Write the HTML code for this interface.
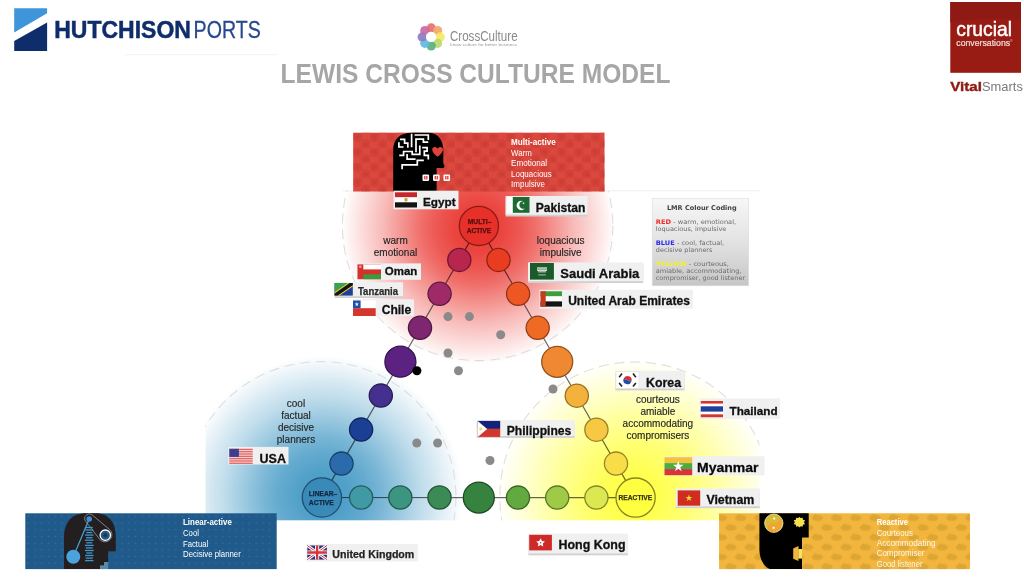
<!DOCTYPE html>
<html lang="en">
<head>
<meta charset="utf-8">
<title>Lewis Cross Culture Model</title>
<style>
html,body{margin:0;padding:0;background:#fff;}
body{width:1024px;height:586px;overflow:hidden;font-family:"Liberation Sans",sans-serif;}
svg{display:block;filter:blur(0.5px);}
text{font-family:"Liberation Sans",sans-serif;}
text.dv{font-family:"DejaVu Sans","Liberation Sans",sans-serif;}
</style>
</head>
<body>
<svg width="1024" height="586" viewBox="0 0 1024 586">
<defs>
<radialGradient id="gR" gradientUnits="userSpaceOnUse" cx="478.2" cy="228" r="136">
<stop offset="0" stop-color="#ea3a34" stop-opacity="1"/><stop offset="0.17" stop-color="#ea3a34" stop-opacity="0.95"/><stop offset="0.32" stop-color="#ea3a34" stop-opacity="0.84"/><stop offset="0.43" stop-color="#ea3a34" stop-opacity="0.72"/><stop offset="0.53" stop-color="#ea3a34" stop-opacity="0.58"/><stop offset="0.62" stop-color="#ea3a34" stop-opacity="0.46"/><stop offset="0.7" stop-color="#ea3a34" stop-opacity="0.35"/><stop offset="0.78" stop-color="#ea3a34" stop-opacity="0.26"/><stop offset="0.85" stop-color="#ea3a34" stop-opacity="0.18"/><stop offset="0.92" stop-color="#ea3a34" stop-opacity="0.1"/><stop offset="0.97" stop-color="#ea3a34" stop-opacity="0.04"/><stop offset="1" stop-color="#ea3a34" stop-opacity="0"/>
</radialGradient>
<radialGradient id="gB" gradientUnits="userSpaceOnUse" cx="323" cy="496" r="140">
<stop offset="0" stop-color="#479bc6" stop-opacity="1"/><stop offset="0.17" stop-color="#479bc6" stop-opacity="0.95"/><stop offset="0.32" stop-color="#479bc6" stop-opacity="0.84"/><stop offset="0.43" stop-color="#479bc6" stop-opacity="0.72"/><stop offset="0.53" stop-color="#479bc6" stop-opacity="0.58"/><stop offset="0.62" stop-color="#479bc6" stop-opacity="0.46"/><stop offset="0.7" stop-color="#479bc6" stop-opacity="0.35"/><stop offset="0.78" stop-color="#479bc6" stop-opacity="0.26"/><stop offset="0.85" stop-color="#479bc6" stop-opacity="0.18"/><stop offset="0.92" stop-color="#479bc6" stop-opacity="0.1"/><stop offset="0.97" stop-color="#479bc6" stop-opacity="0.04"/><stop offset="1" stop-color="#479bc6" stop-opacity="0"/>
</radialGradient>
<radialGradient id="gY" gradientUnits="userSpaceOnUse" cx="634" cy="496.5" r="137">
<stop offset="0" stop-color="#ffff40" stop-opacity="1"/><stop offset="0.2" stop-color="#ffff40" stop-opacity="0.9"/><stop offset="0.4" stop-color="#ffff40" stop-opacity="0.72"/><stop offset="0.55" stop-color="#ffff40" stop-opacity="0.55"/><stop offset="0.7" stop-color="#ffff40" stop-opacity="0.37"/><stop offset="0.82" stop-color="#ffff40" stop-opacity="0.22"/><stop offset="0.92" stop-color="#ffff40" stop-opacity="0.1"/><stop offset="0.97" stop-color="#ffff40" stop-opacity="0.04"/><stop offset="1" stop-color="#ffff40" stop-opacity="0"/>
</radialGradient>
<linearGradient id="gBox" x1="0" y1="0" x2="0" y2="1">
<stop offset="0" stop-color="#f7f7f7"/><stop offset="0.5" stop-color="#e2e2e2"/><stop offset="1" stop-color="#c6c6c6"/>
</linearGradient>
<clipPath id="cR"><rect x="330" y="191" width="300" height="175"/></clipPath>
<clipPath id="cB"><rect x="205.3" y="350" width="260" height="170.6"/></clipPath>
<clipPath id="cY"><rect x="490" y="350" width="269.5" height="170.6"/></clipPath>
<pattern id="pRed" width="17" height="15" patternUnits="userSpaceOnUse" x="353" y="133">
<circle cx="4.5" cy="4" r="5.2" fill="#c93a32" opacity="0.45"/><circle cx="13" cy="11.5" r="5.2" fill="#c93a32" opacity="0.45"/><circle cx="4.5" cy="4" r="2" fill="#c2352e" opacity="0.4"/><circle cx="13" cy="11.5" r="2" fill="#c2352e" opacity="0.4"/>
</pattern>
<pattern id="pBlue" width="6.7" height="6.7" patternUnits="userSpaceOnUse" x="25" y="513">
<circle cx="3.4" cy="3.4" r="0.75" fill="#5a8fc0" opacity="0.45"/>
</pattern>
<pattern id="pYel" width="19.2" height="19.6" patternUnits="userSpaceOnUse" x="719.1" y="513.3">
<g fill="#d9a230" opacity="0.8"><ellipse cx="2.3" cy="4.6" rx="5.6" ry="3.1"/><ellipse cx="21.5" cy="4.6" rx="5.6" ry="3.1"/><ellipse cx="11.9" cy="14.4" rx="5.6" ry="3.1"/><circle cx="0.4" cy="2.4" r="1.6"/><circle cx="19.6" cy="2.4" r="1.6"/><circle cx="10" cy="12.2" r="1.6"/></g>
</pattern>
</defs>
<rect width="1024" height="586" fill="#ffffff"/>

<rect x="125" y="54.2" width="152" height="1" fill="#f2f2f2"/>
<rect x="343" y="190.3" width="417" height="1" fill="#eeeeee"/>
<g clip-path="url(#cR)"><rect x="335" y="191" width="290" height="180" fill="url(#gR)"/><circle cx="477.6" cy="225.4" r="135.2" fill="none" stroke="#dedede" stroke-width="1.1" stroke-dasharray="10 5.8"/></g>
<g clip-path="url(#cB)"><rect x="205.3" y="350" width="262" height="170.6" fill="url(#gB)"/><circle cx="320.7" cy="496.8" r="135.2" fill="none" stroke="#dedede" stroke-width="1.1" stroke-dasharray="10 5.8"/></g>
<g clip-path="url(#cY)"><rect x="490" y="350" width="269.5" height="170.6" fill="url(#gY)"/><circle cx="635" cy="497.2" r="135.2" fill="none" stroke="#dedede" stroke-width="1.1" stroke-dasharray="10 5.8"/></g>
<g stroke="#000" stroke-opacity="0.6" stroke-width="1.2" fill="none"><path d="M478.9 225.9L321.9 497.5L635.6 497.6Z"/></g>
<circle cx="459.3" cy="259.9" r="11.6" fill="#b8254e" stroke="#6e1730" stroke-width="1.3"/>
<circle cx="439.6" cy="293.8" r="11.6" fill="#9e2a68" stroke="#5f1a40" stroke-width="1.3"/>
<circle cx="420.0" cy="327.8" r="11.6" fill="#7f2670" stroke="#4c1744" stroke-width="1.3"/>
<circle cx="400.4" cy="361.7" r="15.5" fill="#5b2282" stroke="#36144e" stroke-width="1.3"/>
<circle cx="380.8" cy="395.6" r="11.6" fill="#46308f" stroke="#2a1d56" stroke-width="1.3"/>
<circle cx="361.1" cy="429.6" r="11.6" fill="#1a3f95" stroke="#10265a" stroke-width="1.3"/>
<circle cx="341.5" cy="463.6" r="11.6" fill="#2c6bab" stroke="#1a4067" stroke-width="1.3"/>
<circle cx="498.5" cy="259.9" r="11.6" fill="#ea3c20" stroke="#8c2413" stroke-width="1.3"/>
<circle cx="518.1" cy="293.8" r="11.6" fill="#ee5624" stroke="#8f3416" stroke-width="1.3"/>
<circle cx="537.7" cy="327.8" r="11.6" fill="#ef6b25" stroke="#904016" stroke-width="1.3"/>
<circle cx="557.2" cy="361.8" r="15.5" fill="#f08832" stroke="#90521e" stroke-width="1.3"/>
<circle cx="576.8" cy="395.7" r="11.6" fill="#f4b13c" stroke="#937225" stroke-width="1.3"/>
<circle cx="596.4" cy="429.7" r="11.6" fill="#f7c842" stroke="#958028" stroke-width="1.3"/>
<circle cx="616.0" cy="463.6" r="11.6" fill="#f9dd48" stroke="#96852b" stroke-width="1.3"/>
<circle cx="361.1" cy="497.5" r="11.6" fill="#3f9aa3" stroke="#265c62" stroke-width="1.3"/>
<circle cx="400.3" cy="497.5" r="11.6" fill="#3c9581" stroke="#24594d" stroke-width="1.3"/>
<circle cx="439.5" cy="497.5" r="11.6" fill="#3a8b55" stroke="#235333" stroke-width="1.3"/>
<circle cx="478.8" cy="497.6" r="15.5" fill="#35833f" stroke="#1c4b25" stroke-width="1.3"/>
<circle cx="518.0" cy="497.6" r="11.6" fill="#62a940" stroke="#396426" stroke-width="1.3"/>
<circle cx="557.2" cy="497.6" r="11.6" fill="#9fca47" stroke="#5a7629" stroke-width="1.3"/>
<circle cx="596.4" cy="497.6" r="11.6" fill="#dce850" stroke="#80882e" stroke-width="1.3"/>
<circle cx="478.9" cy="225.9" r="19.6" fill="#e8302a" stroke="#8b1d19" stroke-width="1.3"/>
<circle cx="321.9" cy="497.5" r="19.6" fill="#3a8ab9" stroke="#1f4f6e" stroke-width="1.3"/>
<circle cx="635.6" cy="497.6" r="19.6" fill="#ffff42" stroke="#8a8424" stroke-width="1.3"/>
<circle cx="448" cy="316.6" r="4.5" fill="#8a8a8a"/>
<circle cx="469.4" cy="316.6" r="4.5" fill="#8a8a8a"/>
<circle cx="500.7" cy="334.7" r="4.5" fill="#8a8a8a"/>
<circle cx="448" cy="353" r="4.5" fill="#8a8a8a"/>
<circle cx="458.5" cy="370.8" r="4.5" fill="#8a8a8a"/>
<circle cx="553" cy="389" r="4.5" fill="#8a8a8a"/>
<circle cx="416.8" cy="443" r="4.5" fill="#8a8a8a"/>
<circle cx="437.6" cy="443" r="4.5" fill="#8a8a8a"/>
<circle cx="490" cy="460.5" r="4.5" fill="#8a8a8a"/>
<circle cx="416.9" cy="370.8" r="4.5" fill="#000"/>
<text x="479.6" y="224.3" font-size="6.7" fill="#560e0b" font-weight="bold" text-anchor="middle" stroke="#560e0b" stroke-width="0.25">MULTI–</text>
<text x="478.9" y="232.6" font-size="6.7" fill="#560e0b" font-weight="bold" text-anchor="middle" stroke="#560e0b" stroke-width="0.25">ACTIVE</text>
<text x="308.8" y="496.3" font-size="6.7" fill="#10283f" font-weight="bold" textLength="28.4" lengthAdjust="spacingAndGlyphs" stroke="#10283f" stroke-width="0.25">LINEAR–</text>
<text x="308.8" y="504.5" font-size="6.7" fill="#10283f" font-weight="bold" textLength="25" lengthAdjust="spacingAndGlyphs" stroke="#10283f" stroke-width="0.25">ACTIVE</text>
<text x="635.4" y="500.4" font-size="6.7" fill="#38360c" font-weight="bold" text-anchor="middle" textLength="33.7" lengthAdjust="spacingAndGlyphs" stroke="#38360c" stroke-width="0.25">REACTIVE</text>
<text x="395.5" y="244" font-size="10" fill="#262626" text-anchor="middle" stroke="#262626" stroke-width="0.15">warm</text>
<text x="395.5" y="256" font-size="10" fill="#262626" text-anchor="middle" stroke="#262626" stroke-width="0.15">emotional</text>
<text x="560.7" y="244" font-size="10" fill="#262626" text-anchor="middle" stroke="#262626" stroke-width="0.15">loquacious</text>
<text x="560.7" y="256" font-size="10" fill="#262626" text-anchor="middle" stroke="#262626" stroke-width="0.15">impulsive</text>
<text x="296" y="407" font-size="10" fill="#262626" text-anchor="middle" stroke="#262626" stroke-width="0.15">cool</text>
<text x="296" y="419" font-size="10" fill="#262626" text-anchor="middle" stroke="#262626" stroke-width="0.15">factual</text>
<text x="296" y="431" font-size="10" fill="#262626" text-anchor="middle" stroke="#262626" stroke-width="0.15">decisive</text>
<text x="296" y="443" font-size="10" fill="#262626" text-anchor="middle" stroke="#262626" stroke-width="0.15">planners</text>
<text x="657.9" y="403" font-size="10" fill="#262626" text-anchor="middle" stroke="#262626" stroke-width="0.15">courteous</text>
<text x="657.9" y="415" font-size="10" fill="#262626" text-anchor="middle" stroke="#262626" stroke-width="0.15">amiable</text>
<text x="657.9" y="427" font-size="10" fill="#262626" text-anchor="middle" stroke="#262626" stroke-width="0.15">accommodating</text>
<text x="657.9" y="439" font-size="10" fill="#262626" text-anchor="middle" stroke="#262626" stroke-width="0.15">compromisers</text>
<g id="banner-red">
<rect x="353.2" y="132.7" width="251.3" height="58.8" fill="#db483e"/>
<rect x="353.2" y="132.7" width="251.3" height="58.8" fill="url(#pRed)"/>
<path d="M393.2 191.5V150C393.2 139 400 132.7 412 132.7H428C438 132.7 443.3 140 443.3 150V163L444.6 166.5L443.3 168H436.6V191.5Z" fill="#000"/>
<g fill="none" stroke="#fff" stroke-width="1.7" stroke-linejoin="miter" stroke-linecap="square"><path d="M411.6 134.6L411.6 146.4"/><path d="M415.4 135.0L428.3 135.0L428.3 139.2"/><path d="M416.0 151.5L416.0 139.2L423.4 139.2L423.4 142.2L427.4 142.2"/><path d="M398.9 143.0L398.9 147.0L402.7 147.0"/><path d="M400.8 139.4L404.6 139.4L404.6 143.2L407.8 143.2L407.8 147.0"/><path d="M400.1 155.3L403.6 155.3L403.6 151.5L412.2 151.5L412.2 154.3L419.8 154.3L419.8 146.4"/><path d="M423.0 147.7L427.1 147.7L427.1 151.1L424.3 151.1L424.3 155.3L428.3 155.3L428.3 158.7"/><path d="M407.1 154.9L407.1 159.1L414.7 159.1"/><path d="M402.1 168.4L402.1 164.8L417.3 164.8L417.3 160.4L423.0 160.4"/></g>
<path d="M437.6 156.8C433.6 153.8 432.2 151.4 432.2 149.5C432.2 146.7 435.8 145.8 437.6 148.6C439.4 145.8 443 146.7 443 149.5C443 151.4 441.6 153.8 437.6 156.8Z" fill="#e0413a"/>
<rect x="422.5" y="174.4" width="6.6" height="6.6" rx="1.2" fill="#fff"/><rect x="424.1" y="176" width="3.4" height="3.4" fill="#e0413a"/><rect x="425.5" y="176" width="0.6" height="3.4" fill="#fff"/>
<rect x="433.0" y="174.4" width="6.6" height="6.6" rx="1.2" fill="#fff"/><rect x="434.6" y="176" width="3.4" height="3.4" fill="#e0413a"/><rect x="436.0" y="176" width="0.6" height="3.4" fill="#fff"/>
<rect x="443.5" y="174.4" width="6.6" height="6.6" rx="1.2" fill="#fff"/><rect x="445.1" y="176" width="3.4" height="3.4" fill="#e0413a"/><rect x="446.5" y="176" width="0.6" height="3.4" fill="#fff"/>
<text x="511.1" y="144.5" font-size="8.8" fill="#fff" font-weight="bold" textLength="44.7" lengthAdjust="spacingAndGlyphs">Multi-active</text>
<text x="511.1" y="155.7" font-size="8.8" fill="#fff" textLength="20.8" lengthAdjust="spacingAndGlyphs">Warm</text>
<text x="511.1" y="166.2" font-size="8.8" fill="#fff" textLength="36" lengthAdjust="spacingAndGlyphs">Emotional</text>
<text x="511.1" y="176.9" font-size="8.8" fill="#fff" textLength="40.6" lengthAdjust="spacingAndGlyphs">Loquacious</text>
<text x="511.1" y="187.4" font-size="8.8" fill="#fff" textLength="33.8" lengthAdjust="spacingAndGlyphs">Impulsive</text>
</g>
<g id="banner-blue">
<rect x="25.3" y="513.3" width="251.4" height="55.8" fill="#1f5a8b"/>
<rect x="25.3" y="513.3" width="251.4" height="55.8" fill="url(#pBlue)"/>
<path d="M64 569.1V538C64 522 72 513.3 86 513.3H96C108 513.3 115.8 522 115.8 536V551.3H108.2V562H104V565.5H100V569.1Z" fill="#231f20"/>
<path d="M100 569.1V565.5H104V562H108.2V569.1Z" fill="#5d87a6"/>
<path d="M86.3 515.2A4.2 4.2 0 0 1 92 514.8L109.3 529.3A7 7 0 0 1 100.5 540.3L85.8 521.5A4.2 4.2 0 0 1 86.3 515.2Z" fill="none" stroke="#8c8c8c" stroke-width="0.9"/>
<line x1="89.2" y1="519" x2="73.3" y2="556.8" stroke="#4aa3df" stroke-width="1.2"/>
<circle cx="73.3" cy="556.8" r="7" fill="#4aa3df"/>
<circle cx="89.2" cy="519" r="2.8" fill="#3f8fdc"/>
<circle cx="105.3" cy="535.2" r="5.2" fill="#1f5a8b" stroke="#fff" stroke-width="1.3"/>
<circle cx="105.3" cy="535.2" r="2" fill="#231f20" opacity="0.6"/>
<g stroke="#3f97cf" stroke-width="1.3">
<line x1="85.8" y1="527.5" x2="92.8" y2="527.5"/>
<line x1="85.3" y1="530.0" x2="93.3" y2="530.0"/>
<line x1="86.3" y1="532.6" x2="92.3" y2="532.6"/>
<line x1="85.1" y1="535.1" x2="93.5" y2="535.1"/>
<line x1="86.1" y1="537.7" x2="92.5" y2="537.7"/>
<line x1="85.0" y1="540.2" x2="93.6" y2="540.2"/>
<line x1="86.3" y1="542.8" x2="92.3" y2="542.8"/>
<line x1="84.9" y1="545.4" x2="93.7" y2="545.4"/>
<line x1="85.9" y1="547.9" x2="92.7" y2="547.9"/>
<line x1="84.9" y1="550.5" x2="93.7" y2="550.5"/>
<line x1="86.3" y1="553.0" x2="92.3" y2="553.0"/>
<line x1="85.1" y1="555.5" x2="93.5" y2="555.5"/>
<line x1="85.7" y1="558.1" x2="92.9" y2="558.1"/>
<line x1="85.1" y1="560.6" x2="93.5" y2="560.6"/>
</g>
<text x="183" y="525.3" font-size="8.8" fill="#fff" font-weight="bold" textLength="48.9" lengthAdjust="spacingAndGlyphs">Linear-active</text>
<text x="183" y="536.1" font-size="8.8" fill="#fff" textLength="15.9" lengthAdjust="spacingAndGlyphs">Cool</text>
<text x="183" y="546.6" font-size="8.8" fill="#fff" textLength="25.2" lengthAdjust="spacingAndGlyphs">Factual</text>
<text x="183" y="557.4" font-size="8.8" fill="#fff" textLength="57.8" lengthAdjust="spacingAndGlyphs">Decisive planner</text>
</g>
<g id="banner-yellow">
<rect x="719.1" y="513.3" width="250.9" height="55.8" fill="#f2b53d"/>
<rect x="719.1" y="513.3" width="250.9" height="55.8" fill="url(#pYel)"/>
<path d="M759.4 513.3H808.7V537.6H802V569.1H770C763 566 759.4 558 759.4 549Z" fill="#000"/>
<circle cx="773.8" cy="523.2" r="9.2" fill="#d8bc36" stroke="#f3ecc0" stroke-width="0.8"/>
<path d="M777.2 514.7A9.2 9.2 0 0 1 770.4 531.7A4.6 4.6 0 0 1 773.8 523.2A4.6 4.6 0 0 0 777.2 514.7Z" fill="#f0a432"/>
<circle cx="774.2" cy="518.6" r="1.1" fill="#fff"/><circle cx="773.6" cy="527.9" r="1.1" fill="#fff"/>
<circle cx="799.4" cy="522.2" r="4.4" fill="#f6e04e"/>
<path d="M799.4 516.8L800.6 518.5L802.6 517.6L802.8 519.8L805 520.2L804 522.2L805 524.2L802.8 524.6L802.6 526.8L800.6 525.9L799.4 527.6L798.2 525.9L796.2 526.8L796 524.6L793.8 524.2L794.8 522.2L793.8 520.2L796 519.8L796.2 517.6L798.2 518.5Z" fill="#f6e04e"/>
<path d="M793.2 548.5L798.5 546V561L793.2 558.8Z" fill="#f2b53d"/><rect x="798.3" y="549" width="3.7" height="9.6" fill="#f7e35e"/>
<text x="876.7" y="524.7" font-size="8.8" fill="#fff" font-weight="bold" textLength="31.3" lengthAdjust="spacingAndGlyphs">Reactive</text>
<text x="876.7" y="535.5" font-size="8.8" fill="#fff" textLength="36.2" lengthAdjust="spacingAndGlyphs" opacity="0.9">Courteous</text>
<text x="876.7" y="545.9" font-size="8.8" fill="#fff" textLength="59" lengthAdjust="spacingAndGlyphs" opacity="0.9">Accommodating</text>
<text x="876.7" y="556.4" font-size="8.8" fill="#fff" textLength="47.8" lengthAdjust="spacingAndGlyphs" opacity="0.9">Compromiser</text>
<text x="876.7" y="566.8" font-size="8.8" fill="#fff" textLength="45.8" lengthAdjust="spacingAndGlyphs" opacity="0.9">Good listener</text>
</g>
<g id="lmr-box">
<rect x="652.2" y="198.6" width="96.5" height="87.2" fill="url(#gBox)" stroke="#dcdcdc" stroke-width="0.6"/>
<text x="666.9" y="209.8" font-size="6.6" fill="#444" font-weight="bold" textLength="69.8" lengthAdjust="spacingAndGlyphs" class="dv">LMR Colour Coding</text>
<text x="655.8" y="223.7" font-size="6.3" fill="#6a6a6a" class="dv" textLength="80.4" lengthAdjust="spacingAndGlyphs"><tspan font-weight="bold" fill="#ee2a2a">RED</tspan> - warm, emotional,</text>
<text x="655.8" y="230.6" font-size="6.3" fill="#6a6a6a" textLength="70.5" lengthAdjust="spacingAndGlyphs" class="dv">loquacious, impulsive</text>
<text x="655.8" y="245" font-size="6.3" fill="#6a6a6a" class="dv" textLength="68.4" lengthAdjust="spacingAndGlyphs"><tspan font-weight="bold" fill="#2a2aee">BLUE</tspan> - cool, factual,</text>
<text x="655.8" y="251.8" font-size="6.3" fill="#6a6a6a" textLength="56.6" lengthAdjust="spacingAndGlyphs" class="dv">decisive planners</text>
<text x="655.8" y="266.1" font-size="6.3" fill="#6a6a6a" class="dv" textLength="73.2" lengthAdjust="spacingAndGlyphs"><tspan font-weight="bold" fill="#f6f02a">YELLOW</tspan> - courteous,</text>
<text x="655.8" y="273.3" font-size="6.3" fill="#6a6a6a" textLength="85.6" lengthAdjust="spacingAndGlyphs" class="dv">amiable, accommodating,</text>
<text x="655.8" y="280" font-size="6.3" fill="#6a6a6a" textLength="89.3" lengthAdjust="spacingAndGlyphs" class="dv">compromiser, good listener</text>
</g>
<g id="labels">
<rect x="393.5" y="190.7" width="65.0" height="18.6" fill="#f0f0f0"/>
<rect x="395" y="192.30" width="22.0" height="5.20" fill="#c9252c"/>
<rect x="395" y="197.30" width="22.0" height="5.20" fill="#ffffff"/>
<rect x="395" y="202.30" width="22.0" height="5.20" fill="#141414"/>
<rect x="404.5" y="198" width="3" height="3.6" rx="1" fill="#c9a23a"/>
<text x="423" y="205.8" font-size="11.7" fill="#111" font-weight="bold" textLength="32.6" lengthAdjust="spacingAndGlyphs" stroke="#111" stroke-width="0.3">Egypt</text>
<rect x="505.6" y="197.8" width="82.1" height="18.7" fill="#d0d0d0"/>
<rect x="505.6" y="196" width="82.1" height="18.7" fill="#f0f0f0"/>
<rect x="507.2" y="197" width="5.6" height="15.8" fill="#ffffff"/><rect x="512.8" y="197" width="16.7" height="15.8" fill="#1d6b33"/>
<path d="M523.2 201.2A4.6 4.6 0 1 0 524.8 208.4A3.8 3.8 0 1 1 523.2 201.2Z" fill="#fff"/>
<polygon points="524.25,202.07 524.05,203.00 524.87,203.47 523.93,203.57 523.74,204.49 523.35,203.63 522.41,203.73 523.11,203.10 522.73,202.23 523.55,202.71" fill="#fff"/>
<text x="535.7" y="211.6" font-size="12" fill="#111" font-weight="bold" textLength="49.6" lengthAdjust="spacingAndGlyphs" stroke="#111" stroke-width="0.3">Pakistan</text>
<rect x="528" y="264.2" width="115.3" height="18.8" fill="#d0d0d0"/>
<rect x="528" y="262.4" width="115.3" height="18.8" fill="#f0f0f0"/>
<rect x="530" y="263" width="23.9" height="16.6" fill="#1b5a2b"/>
<g fill="#e4ece4"><rect x="537" y="267.4" width="10" height="1.3"/><rect x="537" y="269.4" width="10" height="1.5"/><rect x="538" y="271.4" width="8" height="0.9"/><rect x="538.3" y="274.6" width="7.5" height="0.7"/></g>
<text x="560.3" y="277.7" font-size="13" fill="#111" font-weight="bold" textLength="79" lengthAdjust="spacingAndGlyphs" stroke="#111" stroke-width="0.3">Saudi Arabia</text>
<rect x="357" y="263.4" width="64.0" height="16.4" fill="#f0f0f0"/>
<rect x="357.5" y="264.4" width="23.5" height="14.8" fill="#d4302c"/><rect x="363.3" y="264.4" width="17.7" height="5" fill="#fff"/><rect x="363.3" y="274.3" width="17.7" height="4.9" fill="#3a9a3c"/>
<rect x="359.2" y="265.6" width="2.2" height="2.2" fill="#f0b0a8"/>
<text x="384.8" y="275.1" font-size="11.6" fill="#111" font-weight="bold" textLength="32.5" lengthAdjust="spacingAndGlyphs" stroke="#111" stroke-width="0.3">Oman</text>
<rect x="334.6" y="284.1" width="68.4" height="13.9" fill="#d0d0d0"/>
<rect x="334.6" y="282.3" width="68.4" height="13.9" fill="#f0f0f0"/>
<g><rect x="334.6" y="283" width="18.2" height="12.6" fill="#1f3f9a"/><path d="M334.6 283H352.8L334.6 295.6Z" fill="#3aa24a"/><path d="M334.6 295.6V292.2L347.9 283H352.8V286.4L339.5 295.6Z" fill="#f2d23a"/><path d="M334.6 295.6V293.4L349.6 283H352.8V285.2L337.8 295.6Z" fill="#141414"/></g>
<text x="358" y="294.6" font-size="10" fill="#2a2a2a" font-weight="bold" textLength="40" lengthAdjust="spacingAndGlyphs" stroke="#2a2a2a" stroke-width="0.25">Tanzania</text>
<rect x="353" y="299.3" width="61.0" height="16.7" fill="#f0f0f0"/>
<rect x="353" y="300.5" width="22.7" height="15.5" fill="#fff"/><rect x="353" y="308.2" width="22.7" height="7.8" fill="#d4352c"/><rect x="353" y="300.5" width="7.6" height="7.7" fill="#1f4fa8"/>
<polygon points="356.80,302.10 357.29,303.62 358.89,303.62 357.60,304.56 358.09,306.08 356.80,305.14 355.51,306.08 356.00,304.56 354.71,303.62 356.31,303.62" fill="#fff"/>
<text x="381.7" y="314.2" font-size="12" fill="#111" font-weight="bold" textLength="29.5" lengthAdjust="spacingAndGlyphs" stroke="#111" stroke-width="0.3">Chile</text>
<rect x="539.5" y="289.8" width="153.4" height="18.9" fill="#f0f0f0"/>
<rect x="540.5" y="291.30" width="21.5" height="5.23" fill="#3f9e3a"/>
<rect x="540.5" y="296.33" width="21.5" height="5.23" fill="#ffffff"/>
<rect x="540.5" y="301.37" width="21.5" height="5.23" fill="#141414"/>
<rect x="540.5" y="291.3" width="5.2" height="15.1" fill="#c8391f"/>
<text x="568.2" y="305" font-size="12" fill="#111" font-weight="bold" textLength="121.7" lengthAdjust="spacingAndGlyphs" stroke="#111" stroke-width="0.3">United Arab Emirates</text>
<rect x="615.3" y="372.6" width="69.2" height="17.8" fill="#d0d0d0"/>
<rect x="615.3" y="370.8" width="69.2" height="17.8" fill="#f0f0f0"/>
<rect x="616" y="371.8" width="23" height="16.6" fill="#fff" stroke="#dcdcdc" stroke-width="0.5"/>
<path d="M623.4 380.1A4.1 4.1 0 0 1 631.6 380.1Z" fill="#d8322e" transform="rotate(20 627.5 380.1)"/><path d="M623.4 380.1A4.1 4.1 0 0 0 631.6 380.1Z" fill="#1f4fa8" transform="rotate(20 627.5 380.1)"/>
<g stroke="#222" stroke-width="1.6"><path d="M619.2 377.3L622 373.6"/><path d="M633 386.6L635.8 382.9"/><path d="M633 373.6L635.8 377.3"/><path d="M619.2 382.9L622 386.6"/></g>
<text x="646" y="386.8" font-size="12.4" fill="#111" font-weight="bold" textLength="35" lengthAdjust="spacingAndGlyphs" stroke="#111" stroke-width="0.3">Korea</text>
<rect x="699.6" y="398.4" width="80.4" height="20.6" fill="#f0f0f0"/>
<rect x="700.8" y="401.00" width="22.2" height="2.87" fill="#d4352c"/>
<rect x="700.8" y="403.67" width="22.2" height="2.87" fill="#ffffff"/>
<rect x="700.8" y="406.33" width="22.2" height="2.87" fill="#1f3f9a"/>
<rect x="700.8" y="409.00" width="22.2" height="2.87" fill="#1f3f9a"/>
<rect x="700.8" y="411.67" width="22.2" height="2.87" fill="#ffffff"/>
<rect x="700.8" y="414.33" width="22.2" height="2.87" fill="#d4352c"/>
<text x="729.5" y="415.4" font-size="11.8" fill="#111" font-weight="bold" textLength="48.2" lengthAdjust="spacingAndGlyphs" stroke="#111" stroke-width="0.3">Thailand</text>
<rect x="664.5" y="456.3" width="100.1" height="19.1" fill="#f0f0f0"/>
<rect x="664.5" y="457.20" width="27.7" height="6.13" fill="#f4c23a"/>
<rect x="664.5" y="463.13" width="27.7" height="6.13" fill="#4aab3e"/>
<rect x="664.5" y="469.07" width="27.7" height="6.13" fill="#d8343a"/>
<polygon points="678.30,461.00 679.56,464.87 683.63,464.87 680.33,467.26 681.59,471.13 678.30,468.74 675.01,471.13 676.27,467.26 672.97,464.87 677.04,464.87" fill="#fff"/>
<text x="697" y="471.9" font-size="13.6" fill="#0a0a0a" font-weight="bold" textLength="61.5" lengthAdjust="spacingAndGlyphs" stroke="#0a0a0a" stroke-width="0.3">Myanmar</text>
<rect x="675.8" y="490.3" width="84.0" height="17.9" fill="#d0d0d0"/>
<rect x="675.8" y="488.5" width="84.0" height="17.9" fill="#f0f0f0"/>
<rect x="677.7" y="490.4" width="22.5" height="15.3" fill="#cf2d20"/>
<polygon points="688.90,494.60 689.71,497.09 692.32,497.09 690.21,498.62 691.02,501.11 688.90,499.58 686.78,501.11 687.59,498.62 685.48,497.09 688.09,497.09" fill="#f8d83a"/>
<text x="706.4" y="504.1" font-size="12.3" fill="#111" font-weight="bold" textLength="47.9" lengthAdjust="spacingAndGlyphs" stroke="#111" stroke-width="0.3">Vietnam</text>
<rect x="476.7" y="421.7" width="98.1" height="16.2" fill="#d0d0d0"/>
<rect x="476.7" y="419.9" width="98.1" height="16.2" fill="#f0f0f0"/>
<rect x="477.7" y="420.9" width="22.5" height="8" fill="#14237a"/><rect x="477.7" y="428.9" width="22.5" height="8" fill="#d4352c"/><path d="M477.7 420.9L487.2 428.9L477.7 436.9Z" fill="#fff"/><circle cx="480.8" cy="428.9" r="1.6" fill="#f4d878"/>
<text x="506.8" y="434.9" font-size="12.1" fill="#111" font-weight="bold" textLength="64.5" lengthAdjust="spacingAndGlyphs" stroke="#111" stroke-width="0.3">Philippines</text>
<rect x="228.3" y="446.9" width="60.2" height="17.6" fill="#f0f0f0"/>
<rect x="229.3" y="448.8" width="23.4" height="15.1" fill="#f4cfcf"/>
<rect x="229.3" y="448.80" width="23.4" height="1.16" fill="#e0605c"/>
<rect x="229.3" y="451.12" width="23.4" height="1.16" fill="#e0605c"/>
<rect x="229.3" y="453.44" width="23.4" height="1.16" fill="#e0605c"/>
<rect x="229.3" y="455.76" width="23.4" height="1.16" fill="#e0605c"/>
<rect x="229.3" y="458.08" width="23.4" height="1.16" fill="#e0605c"/>
<rect x="229.3" y="460.40" width="23.4" height="1.16" fill="#e0605c"/>
<rect x="229.3" y="462.72" width="23.4" height="1.16" fill="#e0605c"/>
<rect x="229.3" y="448.8" width="9.6" height="8.1" fill="#3a3f8f"/>
<text x="259.6" y="462.5" font-size="12.5" fill="#111" font-weight="bold" textLength="26.4" lengthAdjust="spacingAndGlyphs" stroke="#111" stroke-width="0.3">USA</text>
<rect x="306.4" y="544" width="111.3" height="17.5" fill="#f0f0f0"/>
<g><rect x="307.3" y="545.5" width="19.6" height="14.1" fill="#2a2f7f"/><path d="M307.3 545.5L326.9 559.6M326.9 545.5L307.3 559.6" stroke="#fff" stroke-width="2.8"/><path d="M307.3 545.5L326.9 559.6M326.9 545.5L307.3 559.6" stroke="#d4353a" stroke-width="1"/><path d="M317.1 545.5V559.6M307.3 552.55H326.9" stroke="#fff" stroke-width="4.2"/><path d="M317.1 545.5V559.6M307.3 552.55H326.9" stroke="#d4353a" stroke-width="2.4"/></g>
<text x="332.3" y="558" font-size="10.6" fill="#222" font-weight="bold" textLength="82" lengthAdjust="spacingAndGlyphs" stroke="#222" stroke-width="0.25">United Kingdom</text>
<rect x="528.4" y="535.4" width="99.5" height="19.9" fill="#d0d0d0"/>
<rect x="528.4" y="533.6" width="99.5" height="19.9" fill="#f0f0f0"/>
<rect x="529.2" y="534.8" width="22.7" height="15.6" fill="#cf2a2a"/>
<polygon points="540.60,538.20 541.95,540.94 544.97,541.38 542.79,543.51 543.30,546.52 540.60,545.10 537.90,546.52 538.41,543.51 536.23,541.38 539.25,540.94" fill="#fff"/>
<circle cx="540.6" cy="542.8" r="0.8" fill="#cf2a2a"/>
<text x="558.5" y="548.8" font-size="12.4" fill="#111" font-weight="bold" textLength="67" lengthAdjust="spacingAndGlyphs" stroke="#111" stroke-width="0.3">Hong Kong</text>
</g>
<g id="logo-hutchison">
<path d="M14.2 8.2H47.1V13.3L14.2 32.4Z" fill="#3f95d9"/><path d="M47.1 22.6V50.9H14.2V41Z" fill="#0f2d6b"/>
<text x="54.2" y="38" font-size="24.6" fill="#0f2d6b" font-weight="bold" textLength="136.7" lengthAdjust="spacingAndGlyphs" stroke="#0f2d6b" stroke-width="0.5">HUTCHISON</text>
<text x="193.6" y="38" font-size="24.6" fill="#27488c" textLength="67.2" lengthAdjust="spacingAndGlyphs" stroke="#27488c" stroke-width="0.3">PORTS</text>
</g>
<g id="logo-crossculture">
<circle cx="431.2" cy="27.9" r="4.6" fill="#e8706e" opacity="0.92"/>
<circle cx="437.6" cy="30.5" r="4.6" fill="#f2a86a" opacity="0.92"/>
<circle cx="440.2" cy="36.9" r="4.6" fill="#f7e862" opacity="0.92"/>
<circle cx="437.6" cy="43.3" r="4.6" fill="#bcd86e" opacity="0.92"/>
<circle cx="431.2" cy="45.9" r="4.6" fill="#5ab07e" opacity="0.92"/>
<circle cx="424.8" cy="43.3" r="4.6" fill="#62b8e2" opacity="0.92"/>
<circle cx="422.2" cy="36.9" r="4.6" fill="#8a7cc8" opacity="0.92"/>
<circle cx="424.8" cy="30.5" r="4.6" fill="#c86aa6" opacity="0.92"/>
<circle cx="431.2" cy="36.9" r="5.2" fill="#fff"/>
<text x="449.9" y="41.2" font-size="15" fill="#8a8a8a" textLength="67.7" lengthAdjust="spacingAndGlyphs">CrossCulture</text>
<text x="450.3" y="46.2" font-size="4.2" fill="#9a9a9a" textLength="66.8" lengthAdjust="spacingAndGlyphs">know culture for better business</text>
</g>
<text x="280.6" y="83" font-size="27" fill="#a6a6a6" font-weight="bold" textLength="389.8" lengthAdjust="spacingAndGlyphs">LEWIS CROSS CULTURE MODEL</text>
<g id="logo-crucial">
<rect x="950.3" y="2" width="70.7" height="70.8" fill="#981c14"/>
<path d="M950.3 2H1021V20.5C1000 17.5 972 18 950.3 22.5Z" fill="#8f1a13"/>
<text x="956.3" y="35.6" font-size="21" fill="#fff" textLength="55.7" lengthAdjust="spacingAndGlyphs" stroke="#fff" stroke-width="0.5">crucial</text>
<text x="956.3" y="45.6" font-size="9.4" fill="#f3dedc" textLength="53.8" lengthAdjust="spacingAndGlyphs" stroke="#f3dedc" stroke-width="0.2">conversations</text>
<text x="1010.3" y="41.5" font-size="3" fill="#f3dedc">®</text>
<text x="950.3" y="90.6" font-size="13.4" fill="#8c1c13" font-weight="bold" textLength="31.7" lengthAdjust="spacingAndGlyphs" stroke="#8c1c13" stroke-width="0.4">Vital</text>
<text x="982" y="90.6" font-size="13.4" fill="#7a7a7a" textLength="40.9" lengthAdjust="spacingAndGlyphs">Smarts</text>
</g>
</svg>
</body>
</html>
